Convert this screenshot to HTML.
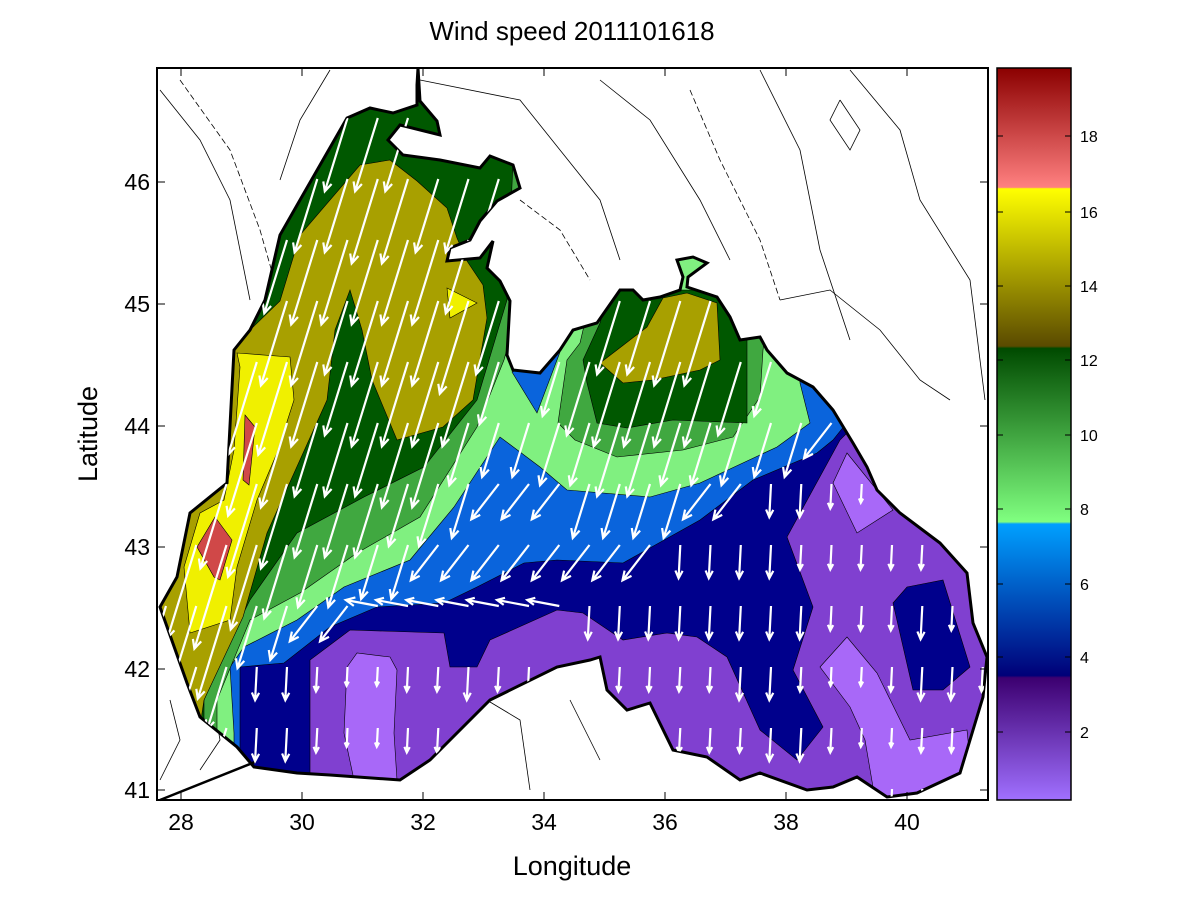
<!DOCTYPE html>
<html><head><meta charset="utf-8"><style>
body{margin:0;background:#fff;width:1200px;height:900px;overflow:hidden;font-family:"Liberation Sans",sans-serif}
</style></head><body>
<svg id="s" width="1200" height="900" viewBox="0 0 1200 900" xmlns="http://www.w3.org/2000/svg">
<defs>
<clipPath id="sea"><polygon id="seapoly" points="254,767 237,747 200,717 187,683 160,607 177,577 190,513 227,483 234,350 250,330 265,300 280,235 300,200 347,118 370,108 393,113 417,105 417,85 418,68 420,101 437,121 440,135 400,125 388,140 403,155 440,160 480,168 490,156 513,165 520,188 497,201 480,221 470,240 450,248 447,261 480,258 493,241 487,268 500,281 510,301 507,355 513,370 540,373 560,350 573,330 597,323 620,290 633,290 643,300 660,297 680,290 683,277 677,260 693,257 707,263 688,277 687,287 717,297 730,317 740,340 760,337 767,350 787,373 813,387 833,410 853,443 867,467 877,490 900,513 940,543 967,573 973,623 987,657 983,697 970,740 960,773 917,793 887,797 857,777 833,787 807,790 760,773 740,780 707,757 673,750 650,703 627,710 607,690 600,657 590,660 557,667 490,700 430,760 400,780 330,775 297,773"/></clipPath>
<clipPath id="plot"><rect x="157" y="68" width="831" height="732"/></clipPath>
<linearGradient id="cb" x1="0" y1="0" x2="0" y2="1">
<stop offset="0" stop-color="#8b0000"/><stop offset="0.163" stop-color="#ff8080"/>
<stop offset="0.165" stop-color="#ffff00"/><stop offset="0.38" stop-color="#5a4a00"/>
<stop offset="0.383" stop-color="#004a00"/><stop offset="0.62" stop-color="#80ff80"/>
<stop offset="0.623" stop-color="#00a0ff"/><stop offset="0.83" stop-color="#000078"/>
<stop offset="0.833" stop-color="#3c0070"/><stop offset="1" stop-color="#a070ff"/>
</linearGradient>
</defs>
<rect x="157" y="68" width="831" height="732" fill="#fff"/>
<g clip-path="url(#plot)" fill="none" stroke="#000" stroke-width="0.8">
<polyline points="160,90 200,140 230,200 250,300"/>
<polyline points="180,80 230,150 260,230 280,300" stroke-dasharray="6,3"/>
<polyline points="330,70 300,120 280,180"/>
<polyline points="420,80 520,100 560,150 600,200 620,260"/>
<polyline points="520,200 560,230 590,280" stroke-dasharray="6,3"/>
<polyline points="600,80 650,120 700,200 730,260"/>
<polyline points="690,90 720,160 760,240 780,300" stroke-dasharray="6,3"/>
<polyline points="760,70 800,150 820,250 850,340"/>
<polyline points="840,100 860,130 850,150 830,120 840,100"/>
<polyline points="850,70 900,130 920,200 970,280 985,400"/>
<polyline points="780,300 830,290 880,330 920,380 950,400"/>
<polyline points="160,780 180,740 170,700"/>
<polyline points="200,770 220,740 215,710"/>
<polyline points="470,690 520,720 530,790"/>
<polyline points="570,700 600,760"/>
</g>
<g clip-path="url(#sea)" stroke="#000" stroke-width="0.6">
<rect x="150" y="60" width="850" height="750" fill="#8040d0"/>
<polygon id="lpSW" fill="#a868f8" points="347,667 357,653 390,657 397,670 394,733 397,780 354,780 344,733"/>
<polygon id="lpE" fill="#a868f8" points="820,667 847,637 877,673 910,740 967,730 970,760 960,773 917,793 887,797 873,787 865,740 850,707"/>
<polygon id="lpNE" fill="#a868f8" points="833,483 847,453 893,510 857,533"/>
<polygon id="navy" fill="#00008c" points="310,900 310,660 350,630 444,633 450,667 477,667 490,640 557,610 583,613 623,640 667,633 697,637 727,657 760,730 797,760 823,727 793,670 813,607 787,537 840,440 860,420 1000,380 1000,0 0,0 0,900"/>
<polygon id="navyE" fill="#00008c" points="893,603 907,587 943,580 970,667 943,690 913,690"/>
<polygon id="blue" fill="#0a64dc" points="240,900 240,753 240,667 284,663 330,627 377,607 444,603 477,587 524,563 557,560 623,563 700,520 753,480 817,453 833,440 845,425 1000,380 1000,0 0,0 0,900"/>
<polygon id="lg" fill="#80f080" points="234,900 234,733 230,667 244,647 297,620 344,587 410,560 454,507 500,437 540,467 567,490 650,497 700,483 777,447 810,423 800,383 800,0 0,0 0,900"/>
<polygon id="bluetri" fill="#0a64dc" points="512,372 537,413 560,352 545,360"/>
<polygon id="g" fill="#40a840" points="217,900 217,700 250,620 300,593 357,553 420,517 477,427 504,360 520,300 520,0 0,0 0,900"/>
<polygon id="gblob" fill="#40a840" points="558,423 567,360 580,343 590,300 770,300 763,350 760,397 733,437 683,450 617,457 575,440"/>
<polygon id="dg" fill="#005800" points="204,900 204,700 217,667 250,600 297,533 364,497 424,467 477,400 507,300 520,0 0,0 0,900"/>
<polygon id="dgblob" fill="#005800" points="583,360 587,383 597,423 627,428 673,420 747,423 747,337 720,290 610,290 600,323"/>
<polygon id="olive" fill="#a8a000" points="0,900 195,760 204,700 243,617 267,533 327,400 335,330 350,290 362,330 372,380 397,440 443,427 473,400 487,318 483,285 467,261 457,238 447,208 417,181 390,160 360,165 300,235 280,301 250,330 0,330"/>
<polygon id="oliveNE" fill="#a8a000" points="600,363 623,383 653,380 700,370 720,360 717,303 687,293 663,298 647,327 617,350"/>
<polygon id="yellow" fill="#f0f000" points="237,353 290,357 294,400 277,453 257,500 237,567 230,620 190,633 184,567 200,513 224,500 234,450 240,367"/>
<polygon id="ytiny" fill="#f0f000" points="447,288 477,303 450,318"/>
<polygon id="red1" fill="#d04848" points="245,415 255,427 249,485 243,480"/>
<polygon id="red2" fill="#d04848" points="197,547 215,517 232,540 220,580 214,577"/>
</g>
<use href="#seapoly" fill="none" stroke="#000" stroke-width="3"/>
<polyline points="160,800 255,762" fill="none" stroke="#000" stroke-width="2.5"/>
<g id="arrows" clip-path="url(#sea)" stroke="#fff" stroke-width="2.2" fill="none"></g>
<rect x="157" y="68" width="831" height="732" fill="none" stroke="#000" stroke-width="2"/>
<g stroke="#000" stroke-width="1">
<line x1="181" y1="800" x2="181" y2="792"/><line x1="302" y1="800" x2="302" y2="792"/><line x1="423" y1="800" x2="423" y2="792"/><line x1="544" y1="800" x2="544" y2="792"/><line x1="665" y1="800" x2="665" y2="792"/><line x1="786" y1="800" x2="786" y2="792"/><line x1="907" y1="800" x2="907" y2="792"/>
<line x1="181" y1="68" x2="181" y2="76"/><line x1="302" y1="68" x2="302" y2="76"/><line x1="423" y1="68" x2="423" y2="76"/><line x1="544" y1="68" x2="544" y2="76"/><line x1="665" y1="68" x2="665" y2="76"/><line x1="786" y1="68" x2="786" y2="76"/><line x1="907" y1="68" x2="907" y2="76"/>
<line x1="157" y1="182" x2="165" y2="182"/><line x1="157" y1="304" x2="165" y2="304"/><line x1="157" y1="426" x2="165" y2="426"/><line x1="157" y1="547" x2="165" y2="547"/><line x1="157" y1="669" x2="165" y2="669"/><line x1="157" y1="790" x2="165" y2="790"/>
<line x1="988" y1="182" x2="980" y2="182"/><line x1="988" y1="304" x2="980" y2="304"/><line x1="988" y1="426" x2="980" y2="426"/><line x1="988" y1="547" x2="980" y2="547"/><line x1="988" y1="669" x2="980" y2="669"/><line x1="988" y1="790" x2="980" y2="790"/>
</g>
<g font-size="23" text-anchor="middle" fill="#000">
<text x="181" y="830">28</text><text x="302" y="830">30</text><text x="423" y="830">32</text><text x="544" y="830">34</text><text x="665" y="830">36</text><text x="786" y="830">38</text><text x="907" y="830">40</text>
</g>
<g font-size="23" text-anchor="end" fill="#000">
<text x="150" y="190">46</text><text x="150" y="312">45</text><text x="150" y="434">44</text><text x="150" y="555">43</text><text x="150" y="677">42</text><text x="150" y="798">41</text>
</g>
<text x="572" y="875" font-size="27" text-anchor="middle">Longitude</text>
<text transform="translate(97,434) rotate(-90)" font-size="27" text-anchor="middle">Latitude</text>
<text x="572" y="40" font-size="26" text-anchor="middle">Wind speed 2011101618</text>
<rect x="997" y="68" width="74" height="732" fill="url(#cb)" stroke="#000" stroke-width="1.5"/>
<g font-size="16" fill="#000">
<text x="1080" y="142">18</text><text x="1080" y="218">16</text><text x="1080" y="292">14</text><text x="1080" y="366">12</text><text x="1080" y="441">10</text><text x="1080" y="515">8</text><text x="1080" y="590">6</text><text x="1080" y="663">4</text><text x="1080" y="738">2</text>
</g>
<g stroke="#000" stroke-width="1">
<line x1="997" y1="136" x2="1003" y2="136"/><line x1="1065" y1="136" x2="1071" y2="136"/>
<line x1="997" y1="212" x2="1003" y2="212"/><line x1="1065" y1="212" x2="1071" y2="212"/>
<line x1="997" y1="286" x2="1003" y2="286"/><line x1="1065" y1="286" x2="1071" y2="286"/>
<line x1="997" y1="360" x2="1003" y2="360"/><line x1="1065" y1="360" x2="1071" y2="360"/>
<line x1="997" y1="435" x2="1003" y2="435"/><line x1="1065" y1="435" x2="1071" y2="435"/>
<line x1="997" y1="509" x2="1003" y2="509"/><line x1="1065" y1="509" x2="1071" y2="509"/>
<line x1="997" y1="584" x2="1003" y2="584"/><line x1="1065" y1="584" x2="1071" y2="584"/>
<line x1="997" y1="657" x2="1003" y2="657"/><line x1="1065" y1="657" x2="1071" y2="657"/>
<line x1="997" y1="732" x2="1003" y2="732"/><line x1="1065" y1="732" x2="1071" y2="732"/>
</g>
</svg>
<script>
(function(){
var lv=[['red1',17],['red2',17],['ytiny',15],['yellow',15],['oliveNE',13.5],['olive',13.5],['dgblob',11.5],['dg',11.5],['gblob',9.5],['g',9.5],['bluetri',6],['lg',8],['blue',6],['navyE',4],['navy',4],['lpSW',1.5],['lpE',1.5],['lpNE',1.5]];
function inside(id,x,y){var e=document.getElementById(id);try{return e.isPointInFill(new DOMPoint(x,y));}catch(err){try{var p=document.getElementById('s').createSVGPoint();p.x=x;p.y=y;return e.isPointInFill(p);}catch(e2){return false;}}}
var out='';
for(var y=57;y<800;y+=61){for(var x=166;x<990;x+=30.25){
 if(!inside('seapoly',x,y))continue;
 var s=2.5;for(var i=0;i<lv.length;i++){if(inside(lv[i][0],x,y)){s=lv[i][1];break;}}
 var ang;
 if(s>=7.5)ang=0.3;else if(s>=4.5)ang=0.66;else ang=0.05;
 var L=10+5.8*s;
 var dx=-Math.sin(ang)*L,dy=Math.cos(ang)*L;
 if(Math.abs(y-606)<16&&x>370&&x<570){dx=-32;dy=-6;}
 var x2=x+dx,y2=y+dy,a=Math.atan2(dy,dx),h=Math.min(10,L*0.25);
 out+='<path d="M'+x.toFixed(1)+' '+y.toFixed(1)+'L'+x2.toFixed(1)+' '+y2.toFixed(1)+'M'+(x2-h*Math.cos(a-0.45)).toFixed(1)+' '+(y2-h*Math.sin(a-0.45)).toFixed(1)+'L'+x2.toFixed(1)+' '+y2.toFixed(1)+'L'+(x2-h*Math.cos(a+0.45)).toFixed(1)+' '+(y2-h*Math.sin(a+0.45)).toFixed(1)+'"/>';
}}
document.getElementById('arrows').innerHTML=out;
})();
</script>
</body></html>
